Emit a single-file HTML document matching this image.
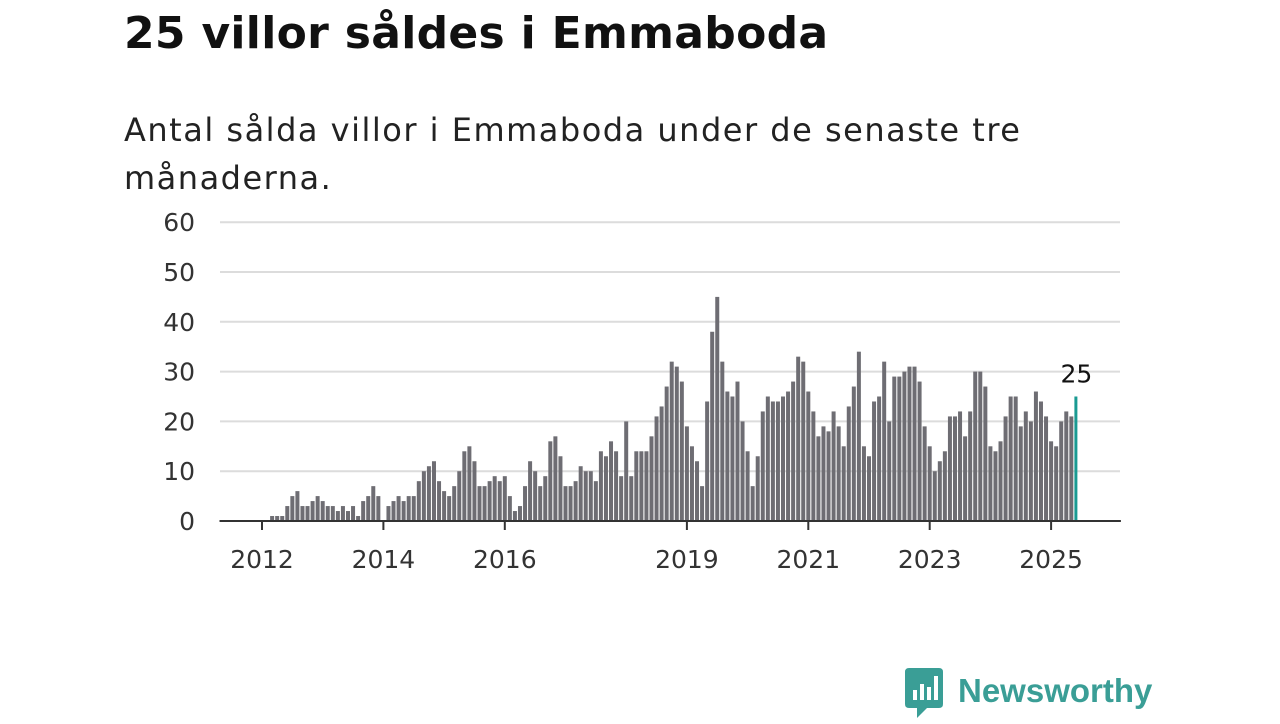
<!DOCTYPE html>
<html><head><meta charset="utf-8"><style>
body{margin:0;width:1280px;height:720px;background:#fff;font-family:"DejaVu Sans","Liberation Sans",sans-serif;overflow:hidden;position:relative}
#title{position:absolute;left:124px;top:8px;font-size:44px;font-weight:bold;color:#111;margin:0;letter-spacing:0.3px}
#sub{position:absolute;left:124px;top:106px;font-size:32px;line-height:48px;color:#222;width:1140px;letter-spacing:1.5px}
#logo{position:absolute;left:903px;top:668px}
</style></head><body>
<h1 id="title">25 villor såldes i Emmaboda</h1>
<div id="sub">Antal sålda villor i Emmaboda under de senaste tre<br>månaderna.</div>
<svg id="chart" width="1280" height="720" style="position:absolute;left:0;top:0"></svg>
<div id="logo">
<svg width="260" height="52">
<path d="M2 4 Q2 0 6 0 H36 Q40 0 40 4 V36 Q40 40 36 40 H24 L14 50 V40 H6 Q2 40 2 36 Z" fill="#3a9e96"/>
<rect x="10" y="22" width="4" height="10" fill="#fff"/><rect x="17" y="16" width="4" height="16" fill="#fff"/><rect x="24" y="19" width="4" height="13" fill="#fff"/><rect x="31" y="8" width="4" height="24" fill="#fff"/>
<text x="55" y="34" font-size="33" font-weight="bold" fill="#3a9e96" font-family="Liberation Sans, sans-serif">Newsworthy</text>
</svg></div>
<script>
const startYear = 2012;
const values = [
0,0,1,1,1,3,5,6,3,3,4,5,
4,3,3,2,3,2,3,1,4,5,7,5,
0,3,4,5,4,5,5,8,10,11,12,8,
6,5,7,10,14,15,12,7,7,8,9,8,
9,5,2,3,7,12,10,7,9,16,17,13,
7,7,8,11,10,10,8,14,13,16,14,9,
20,9,14,14,14,17,21,23,27,32,31,28,
19,15,12,7,24,38,45,32,26,25,28,20,
14,7,13,22,25,24,24,25,26,28,33,32,
26,22,17,19,18,22,19,15,23,27,34,15,
13,24,25,32,20,29,29,30,31,31,28,19,
15,10,12,14,21,21,22,17,22,30,30,27,
15,14,16,21,25,25,19,22,20,26,24,21,
16,15,20,22,21,25];
const yTicks = [0,10,20,30,40,50,60];
const xTicks = [2012,2014,2016,2019,2021,2023,2025];
const NS='http://www.w3.org/2000/svg';
const svg=document.getElementById('chart');
const x=t=>262+(t-2012)*60.7;
const y=v=>521-v*4.98;
function el(tag,attrs,txt){const e=document.createElementNS(NS,tag);for(const k in attrs)e.setAttribute(k,attrs[k]);if(txt!==undefined)e.textContent=txt;svg.appendChild(e);return e;}
yTicks.forEach(v=>{
  if(v>0){const g=el('line',{x1:220,x2:1120,y1:y(v),y2:y(v),stroke:'#dcdcdc','stroke-width':2});
  
  }
  const t=el('text',{x:195,y:y(v)+9,'text-anchor':'end','font-size':25,fill:'#333','font-family':'DejaVu Sans, sans-serif'},String(v));
  
  
});
values.forEach((v,i)=>{
  const cx=x(startYear+i/12);
  const last=i===values.length-1;
  const r=el('rect',{x:cx-2,y:y(v),width:last?3:4,height:y(0)-y(v),fill:last?'#1a9a92':'#6e6d73'});
  
  
  if(last){const l=el('text',{x:cx,y:y(v)-14,'text-anchor':'middle','font-size':25,fill:'#111','font-family':'DejaVu Sans, sans-serif'},String(v));
  
  }
});
const ax=el('line',{x1:x(2011.3),x2:x(2026.15),y1:521,y2:521,stroke:'#333','stroke-width':2});


xTicks.forEach(yr=>{
  const tk=el('line',{x1:x(yr),x2:x(yr),y1:521,y2:530,stroke:'#333','stroke-width':2});
  
  
  const t=el('text',{x:x(yr),y:568,'text-anchor':'middle','font-size':25,fill:'#333','font-family':'DejaVu Sans, sans-serif'},String(yr));
  
  
});
</script>
</body></html>
